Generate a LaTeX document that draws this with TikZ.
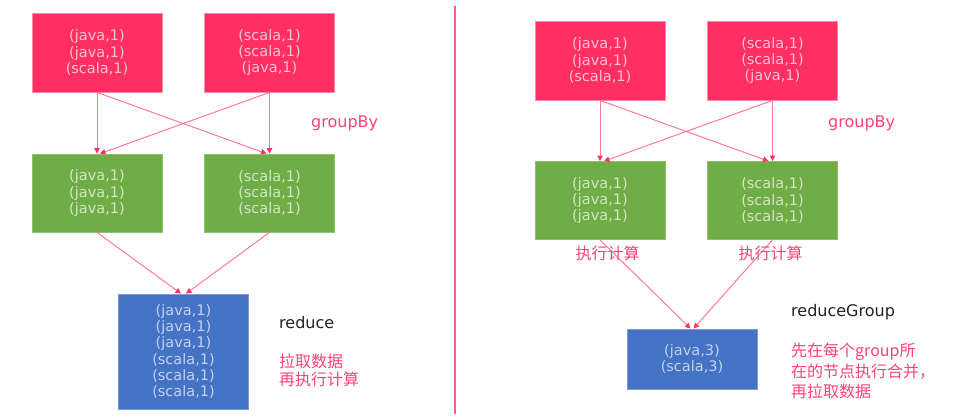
\documentclass[tikz,border=0pt]{standalone}
\usepackage{fontspec}
\setmainfont{DejaVu Sans}
\newfontfamily\cjk{Noto Sans CJK SC}
\usetikzlibrary{arrows.meta}
\definecolor{redbox}{HTML}{FF2E63}
\definecolor{redborder}{HTML}{FF8AA6}
\definecolor{redtext}{HTML}{F9C3CF}
\definecolor{greenbox}{HTML}{70AD47}
\definecolor{greenborder}{HTML}{8FC06E}
\definecolor{greentext}{HTML}{D3E6C6}
\definecolor{bluebox}{HTML}{4472C4}
\definecolor{blueborder}{HTML}{7D9BD6}
\definecolor{bluetext}{HTML}{C3D1EE}
\definecolor{arrcol}{HTML}{FF7A98}
\definecolor{tipcol}{HTML}{FF3366}
\definecolor{pinklbl}{HTML}{FF4373}
\definecolor{divcol}{HTML}{FF5C88}
\definecolor{darklbl}{HTML}{222222}
\begin{document}
\begin{tikzpicture}[x=1pt,y=-1pt,
  box/.style={inner sep=0pt, minimum width=130pt, align=center,
    font=\fontsize{14.5}{16.2}\selectfont, line width=0.8pt},
  redb/.style={box, fill=redbox, draw=redborder, text=redtext, minimum height=79pt},
  greenb/.style={box, fill=greenbox, draw=greenborder, text=greentext, minimum height=78pt},
  blueb/.style={box, fill=bluebox, draw=blueborder, text=bluetext},
  arr/.style={draw=arrcol, line width=1pt, -{Triangle[width=5.5pt,length=5.5pt,color=tipcol]}},
  pinktxt/.style={text=pinklbl, inner sep=0pt, anchor=west, font=\fontsize{16}{19}\selectfont},
  darktxt/.style={text=darklbl, inner sep=0pt, anchor=west, font=\fontsize{16}{19}\selectfont},
  cjktxt/.style={text=pinklbl, inner sep=0pt, font=\cjk\fontsize{16}{19}\selectfont},
  divider/.style={draw=divcol, line width=1.2pt}
]
\useasboundingbox[fill=white] (0,0) rectangle (959,418);

% ---------- left panel ----------
\node[redb] (r1) at (97,52.5) {(java,1)\\(java,1)\\(scala,1)};
\node[redb] (r2) at (269.5,52.5) {(scala,1)\\(scala,1)\\(java,1)};
\node[greenb] (g1) at (97,193) {(java,1)\\(java,1)\\(java,1)};
\node[greenb] (g2) at (269.5,193) {(scala,1)\\(scala,1)\\(scala,1)};
\node[blueb, minimum height=115pt] (b1) at (183.5,351.5)
  {(java,1)\\(java,1)\\(java,1)\\(scala,1)\\(scala,1)\\(scala,1)};

\draw[arr] (r1.south) -- (g1.north);
\draw[arr] (r1.south) -- ([xshift=-3pt]g2.north);
\draw[arr] (r2.south) -- ([xshift=3pt]g1.north);
\draw[arr] (r2.south) -- (g2.north);
\draw[arr] (g1.south) -- ([xshift=-2.5pt]b1.north);
\draw[arr] (g2.south) -- ([xshift=2.5pt]b1.north);

\node[pinktxt] (gb1) at (311,123) {groupBy};
\node[darktxt] (red) at (279,323) {reduce};
\node[cjktxt, anchor=west] (c1) at (279,361) {拉取数据};
\node[cjktxt, anchor=west] (c2) at (279,379) {再执行计算};

% ---------- divider ----------
\coordinate (dtop) at (455,6);
\coordinate (dbot) at (455,414);
\draw[divider] (dtop) -- (dbot);

% ---------- right panel ----------
\node[redb] (r3) at (600,60.5) {(java,1)\\(java,1)\\(scala,1)};
\node[redb] (r4) at (772.5,60.5) {(scala,1)\\(scala,1)\\(java,1)};
\node[greenb] (g3) at (600,200.5) {(java,1)\\(java,1)\\(java,1)};
\node[greenb] (g4) at (772.5,200.5) {(scala,1)\\(scala,1)\\(scala,1)};
\node[blueb, minimum height=60pt] (b2) at (692,359) {(java,3)\\(scala,3)};

\draw[arr] (r3.south) -- (g3.north);
\draw[arr] (r3.south) -- ([xshift=-4pt]g4.north);
\draw[arr] (r4.south) -- ([xshift=4pt]g3.north);
\draw[arr] (r4.south) -- (g4.north);
\draw[arr] (g3.south) -- ([xshift=-1.5pt]b2.north);
\draw[arr] (g4.south) -- ([xshift=1.5pt]b2.north);

\node[cjktxt] (e1) at (607.5,253) {执行计算};
\node[cjktxt] (e2) at (770.5,253) {执行计算};

\node[pinktxt] (gb2) at (828,123) {groupBy};
\node[darktxt] (rg) at (791,312) {reduceGroup};
\node[cjktxt, anchor=west] (d1) at (791,352) {先在每个group所};
\node[cjktxt, anchor=west] (d2) at (791,372) {在的节点执行合并，};
\node[cjktxt, anchor=west] (d3) at (791,391) {再拉取数据};
\end{tikzpicture}
\end{document}
